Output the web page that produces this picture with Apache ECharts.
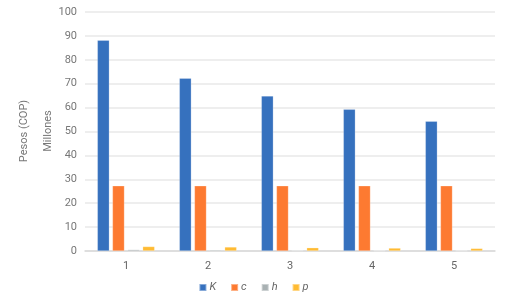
<!DOCTYPE html>
<html>
<head>
<meta charset="utf-8">
<style>
  html, body { margin: 0; padding: 0; background: #fff; }
  #chart { width: 507px; height: 302px; }
</style>
<script src="https://cdn.jsdelivr.net/npm/echarts@6/dist/echarts.min.js"></script>
</head>
<body>
<div id="chart"></div>
<script>
const categories = ['1', '2', '3', '4', '5'];
const seriesNames = ['K', 'c', 'h', 'p'];
const valuesK = [88.2, 72.3, 64.9, 59.3, 54.3];
const valuesC = [27.3, 27.3, 27.3, 27.3, 27.3];
const valuesH = [0.6, 0.45, 0.3, 0.2, 0.15];
const valuesP = [1.9, 1.7, 1.4, 1.25, 1.1];
const colors = ['#3671be', '#fd7a31', '#a9b1b3', '#ffbb33'];

const chart = echarts.init(document.getElementById('chart'));

const makeBar = (name, data, i) => ({
  name,
  type: 'bar',
  data,
  barGap: '25%',
  barCategoryGap: '30%',
  itemStyle: {
    color: colors[i],
    borderColor: 'rgba(255,255,255,0.4)',
    borderWidth: 0.6
  }
});

chart.setOption({
  animation: false,
  textStyle: { fontFamily: 'Roboto, "Noto Sans", sans-serif' },
  grid: { left: 85, right: 12, top: 12, bottom: 51 },
  legend: {
    bottom: 4,
    left: 'center',
    itemWidth: 7,
    itemHeight: 7,
    itemGap: 14,
    icon: 'rect',
    textStyle: { color: '#666', fontSize: 11, fontStyle: 'italic', padding: [0, 0, 0, -2] },
    data: seriesNames
  },
  xAxis: {
    type: 'category',
    data: categories,
    axisTick: { show: false },
    axisLine: { lineStyle: { color: '#d9d9d9', width: 1.5 } },
    axisLabel: { color: '#666', fontSize: 11, margin: 10 }
  },
  yAxis: {
    type: 'value',
    min: 0,
    max: 100,
    interval: 10,
    axisLine: { show: false },
    axisTick: { show: false },
    axisLabel: { color: '#777', fontSize: 11, margin: 8 },
    splitLine: { lineStyle: { color: '#e8e8e8', width: 1.5 } }
  },
  graphic: [
    {
      type: 'text',
      x: 24,
      y: 131,
      rotation: Math.PI / 2,
      style: {
        text: 'Pesos (COP)',
        fill: '#777',
        font: '11px Roboto, "Noto Sans", sans-serif',
        align: 'center',
        verticalAlign: 'middle'
      }
    },
    {
      type: 'text',
      x: 48,
      y: 131,
      rotation: Math.PI / 2,
      style: {
        text: 'Millones',
        fill: '#777',
        font: '11px Roboto, "Noto Sans", sans-serif',
        align: 'center',
        verticalAlign: 'middle'
      }
    }
  ],
  series: [
    makeBar(seriesNames[0], valuesK, 0),
    makeBar(seriesNames[1], valuesC, 1),
    makeBar(seriesNames[2], valuesH, 2),
    makeBar(seriesNames[3], valuesP, 3)
  ]
});
</script>
</body>
</html>
